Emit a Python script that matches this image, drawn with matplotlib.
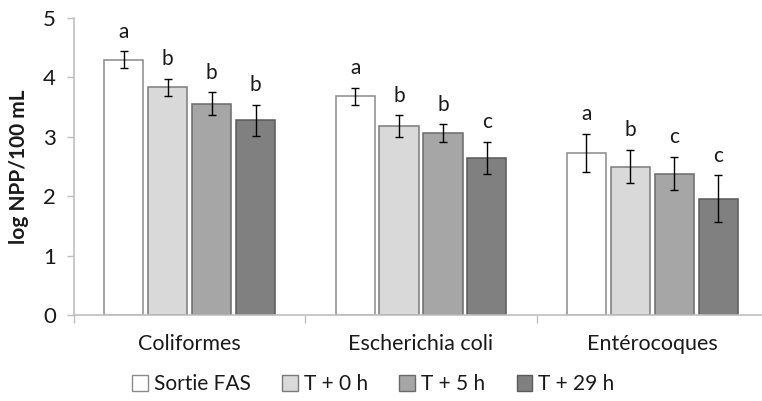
import numpy as np
import matplotlib
matplotlib.use("Agg")
import matplotlib.pyplot as plt
from matplotlib.patches import Patch

plt.rcParams['font.family'] = ['Lato', 'DejaVu Sans']

categories = ["Coliformes", "Escherichia coli", "Entérocoques"]
series = ["Sortie FAS", "T + 0 h", "T + 5 h", "T + 29 h"]

# mean log NPP/100 mL, one list per series (Coliformes, E. coli, Entérocoques)
sortie_fas = [4.30, 3.68, 2.73]
t0 = [3.83, 3.18, 2.50]
t5 = [3.56, 3.06, 2.38]
t29 = [3.28, 2.65, 1.96]

err_sortie_fas = [0.14, 0.14, 0.32]
err_t0 = [0.14, 0.18, 0.28]
err_t5 = [0.19, 0.15, 0.28]
err_t29 = [0.26, 0.27, 0.39]

letters_sortie_fas = ["a", "a", "a"]
letters_t0 = ["b", "b", "b"]
letters_t5 = ["b", "b", "c"]
letters_t29 = ["b", "c", "c"]

values = [sortie_fas, t0, t5, t29]
errors = [err_sortie_fas, err_t0, err_t5, err_t29]
letters = [letters_sortie_fas, letters_t0, letters_t5, letters_t29]

fills = ["#ffffff", "#d9d9d9", "#a6a6a6", "#808080"]
edges = ["#8a8a8a", "#7a7a7a", "#6a6a6a", "#5a5a5a"]
text_col = "#1a1a1a"
axis_col = "#bfbfbf"

fig = plt.figure(figsize=(7.62, 4.01), dpi=100)
ax = fig.add_axes([74 / 762, 86 / 401, 694 / 762, 297 / 401])

x = np.arange(len(categories))
step = 0.19
width = 0.169
for i in range(len(series)):
    pos = x + (i - 1.5) * step
    ax.bar(pos, values[i], width, color=fills[i], edgecolor=edges[i], linewidth=1.1,
           label=series[i], zorder=2)
    ax.errorbar(pos, values[i], yerr=errors[i], fmt='none', ecolor='black',
                elinewidth=1.0, capsize=3.2, capthick=1.0, zorder=3)
    for j in range(len(categories)):
        ax.annotate(letters[i][j], (pos[j], values[i][j] + errors[i][j]),
                    xytext=(0, 7), textcoords='offset points', ha='center', va='bottom',
                    fontsize=15, color=text_col)

ax.set_xlim(-0.5, 2.5)
ax.set_ylim(0, 5)
ax.set_yticks(range(6))

ax.set_xticks(x)
ax.set_xticklabels(categories)
ax.set_xticks([-0.5, 0.5, 1.5, 2.5], minor=True)
ax.tick_params(axis='x', which='major', length=0, pad=14, labelsize=15.5, labelcolor=text_col)
ax.tick_params(axis='x', which='minor', length=6, width=1, color=axis_col)
ax.tick_params(axis='y', length=5, width=1, color=axis_col, pad=8, labelsize=16,
               labelcolor=text_col)

for s in ["top", "right"]:
    ax.spines[s].set_visible(False)
for s in ["left", "bottom"]:
    ax.spines[s].set_color(axis_col)
    ax.spines[s].set_linewidth(1.2)

ax.set_ylabel("log NPP/100 mL", fontsize=15, fontweight='bold', color=text_col, labelpad=10)

handles = [Patch(facecolor=fills[i], edgecolor=edges[i], linewidth=1.0) for i in range(len(series))]
fig.legend(handles, series, loc='center', bbox_to_anchor=(0.49, 0.042), ncol=4,
           frameon=False, fontsize=15, handlelength=0.75, handleheight=0.75,
           handletextpad=0.3, columnspacing=1.5, labelcolor=text_col)

fig.savefig("out.png", dpi=100)
